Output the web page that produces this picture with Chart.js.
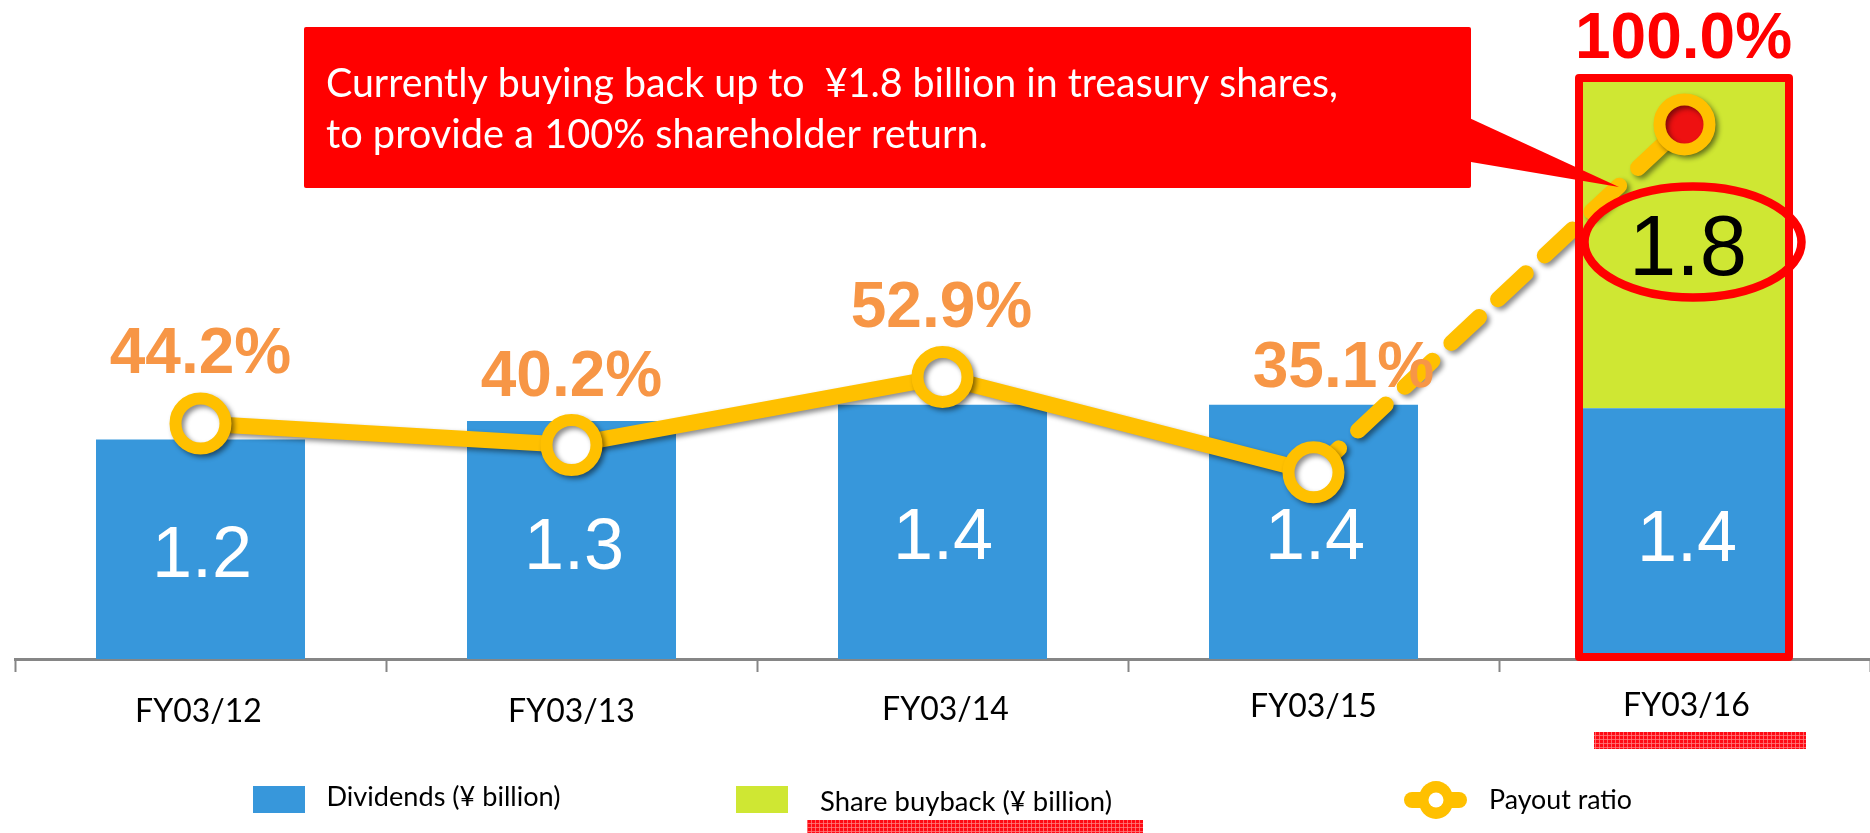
<!DOCTYPE html>
<html>
<head>
<meta charset="utf-8">
<style>html,body{margin:0;padding:0;background:#fff;overflow:hidden}canvas{display:block}</style>
<script src="https://cdn.jsdelivr.net/npm/chart.js@4"></script>
</head>
<body>
<canvas id="c" width="1870" height="833"></canvas>
<script>
const categories = ['FY03/12','FY03/13','FY03/14','FY03/15','FY03/16'];
const dividends = [1.2,1.3,1.39,1.39,1.37];
const buyback = [0,0,0,0,1.8];
const payout = [44.2,40.2,52.9,35.1,100.0];
const seriesNames = ['Dividends (¥ billion)','Share buyback (¥ billion)','Payout ratio'];
const calloutLines = ['Currently buying back up to  ¥1.8 billion in treasury shares,','to provide a 100% shareholder return.'];

const BLUE='#3797DB', GREEN='#CFE733', GOLD='#FFC000', RED='#FF0000', ORANGE='#F79646';
const SANS='"Liberation Sans", Arial, sans-serif', HUM='Lato, sans-serif';
const tickShiftY=[5,5,3,0,-1];
const tickShiftX=[-2,0,3,0,2];
const divBaseline=[577,569,559,559,561];
const divX=[202,574,943,1315,1687];
const pctOffset=[[0,-51],[0,-49],[-1,-50],[30,-85],[-1,-66]];

function text(ctx,s,x,y,font,color,align,width){
  ctx.save();ctx.font=font;ctx.fillStyle=color;ctx.textAlign=align||'left';ctx.textBaseline='alphabetic';
  if(width){const w=ctx.measureText(s).width;ctx.translate(x,y);ctx.scale(width/w,1);ctx.fillText(s,0,0);}
  else ctx.fillText(s,x,y);
  ctx.restore();
}
function strip(ctx,x,y,w,h){
  const p=document.createElement('canvas');p.width=4;p.height=4;const g=p.getContext('2d');
  g.fillStyle='#FF0A14';g.fillRect(0,0,4,4);g.fillStyle='rgba(255,130,130,.75)';g.fillRect(0,3,4,1);g.fillRect(3,0,1,4);
  ctx.save();ctx.fillStyle=ctx.createPattern(p,'repeat');ctx.fillRect(x,y,w,h);ctx.restore();
}
const decor={
  id:'decor',
  afterUpdate(chart){
    chart.scales.x.getLabelItems().forEach((it,i)=>{
      it.options.translation[0]+=tickShiftX[i];
      it.options.translation[1]+=tickShiftY[i];
    });
  },
  beforeDatasetDraw(chart,args){
    if(args.index===2){const c=chart.ctx;c.save();c.shadowColor='rgba(0,0,0,.45)';c.shadowBlur=5;c.shadowOffsetX=3;c.shadowOffsetY=3;}
  },
  afterDatasetDraw(chart,args){ if(args.index===2) chart.ctx.restore(); },
  afterDatasetsDraw(chart){
    const c=chart.ctx, x=chart.scales.x, y2=chart.scales.y2;
    // value labels
    dividends.forEach((v,i)=>{
      text(c,v.toFixed(1),divX[i],divBaseline[i],'72px '+SANS,'#fff','center');
    });
    // highlight box
    c.save();c.strokeStyle=RED;c.lineWidth=8;c.lineJoin='round';
    c.strokeRect(1579,78,210,579);c.restore();
    // callout
    c.save();c.fillStyle=RED;c.beginPath();c.roundRect(304,27,1167,161,2);c.fill();
    c.beginPath();c.moveTo(1465,116);c.lineTo(1619,187);c.lineTo(1465,161);c.closePath();c.fill();c.restore();
    text(c,calloutLines[0],326,97,'41px '+HUM,'#fff','left',1012);
    text(c,calloutLines[1],326,148,'41px '+HUM,'#fff','left',662);
    // ellipse
    c.save();c.strokeStyle=RED;c.lineWidth=8.5;c.beginPath();c.ellipse(1693,242,108.5,55.5,0,0,Math.PI*2);c.stroke();c.restore();
    text(c,buyback[4].toFixed(1),1688,275,'85px '+SANS,'#000','center');
    // percentage labels
    payout.forEach((v,i)=>{
      const px=x.getPixelForValue(i), py=y2.getPixelForValue(v);
      text(c,v.toFixed(1)+'%',px+pctOffset[i][0],py+pctOffset[i][1],'bold 64px '+SANS,i===4?RED:ORANGE,'center');
    });
    // underline strips
    strip(c,1594,732,212,17);
    strip(c,807,820,336,13);
    // legend
    c.fillStyle=BLUE;c.fillRect(253,786,52,27);
    c.fillStyle=GREEN;c.fillRect(736,786,52,27);
    text(c,seriesNames[0],326.5,806,'27px '+HUM,'#000','left',234);
    text(c,seriesNames[1],820,811,'27px '+HUM,'#000','left',292);
    text(c,seriesNames[2],1489,809,'27px '+HUM,'#000','left',143);
    c.save();c.strokeStyle=GOLD;c.lineCap='round';c.lineWidth=16;c.beginPath();c.moveTo(1412,800);c.lineTo(1459,800);c.stroke();
    c.fillStyle=GOLD;c.beginPath();c.ellipse(1436,800,17.5,19,0,0,Math.PI*2);c.fill();
    c.fillStyle='#fff';c.beginPath();c.ellipse(1436,800,7.5,7.5,0,0,Math.PI*2);c.fill();c.restore();
  }
};
new Chart(document.getElementById('c'),{
  type:'bar',
  data:{labels:categories,datasets:[
    {label:seriesNames[0],data:dividends,backgroundColor:BLUE,stack:'s',order:2,yAxisID:'y',categoryPercentage:1,barPercentage:209/371},
    {label:seriesNames[1],data:buyback,backgroundColor:GREEN,stack:'s',order:2,yAxisID:'y',categoryPercentage:1,barPercentage:209/371},
    {label:seriesNames[2],type:'line',data:payout,yAxisID:'y2',order:1,borderColor:GOLD,borderWidth:16,borderCapStyle:'round',borderJoinStyle:'round',
     tension:0,pointRadius:25,pointHoverRadius:25,pointBorderWidth:12,pointBorderColor:GOLD,
     pointBackgroundColor:payout.map((v,i)=>i===4?'#EE1111':'#fff'),
     segment:{borderDash:c=>c.p1DataIndex===4?[38,26]:undefined,borderDashOffset:c=>c.p1DataIndex===4?3:0}}
  ]},
  options:{
    responsive:false,animation:false,
    layout:{autoPadding:false,padding:{left:15,right:0,top:0,bottom:0}},
    plugins:{legend:{display:false},tooltip:{enabled:false}},
    scales:{
      x:{stacked:true,offset:true,
        afterFit(s){s.height=174;},
        border:{color:'#868686',width:3},
        grid:{offset:true,drawOnChartArea:false,tickLength:13,tickColor:'#868686',tickWidth:2},
        ticks:{color:'#000',font:{family:'Lato',size:32},padding:15,maxRotation:0}},
      y:{display:false,stacked:true,min:0,max:659/183},
      y2:{display:false,min:0.27,max:0.27+659/5.36}
    }
  },
  plugins:[decor]
});
</script>
</body>
</html>
